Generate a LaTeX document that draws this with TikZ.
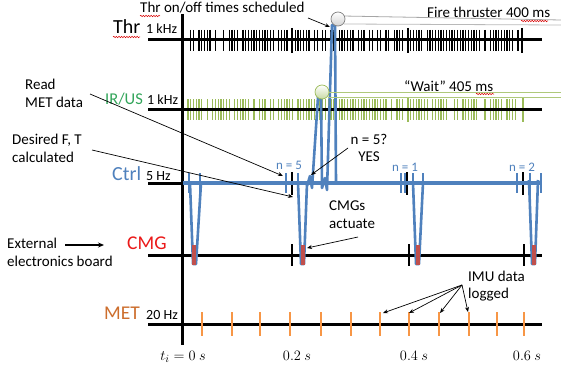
\documentclass[tikz,border=0pt]{standalone}
\usepackage{fontspec}
\setmainfont{Carlito}
\usetikzlibrary{arrows.meta,decorations.pathmorphing}
\definecolor{ctrlblue}{RGB}{79,129,189}
\definecolor{irgreen}{RGB}{155,187,89}
\definecolor{irtext}{RGB}{50,165,90}
\definecolor{cmgred}{RGB}{235,25,25}
\definecolor{cmgbar}{RGB}{192,80,77}
\definecolor{metorange}{RGB}{247,150,70}
\definecolor{mettext}{RGB}{205,110,45}
\begin{document}
\begin{tikzpicture}[x=1pt,y=-1pt,
  txt/.style={inner sep=0pt,font=\fontsize{15}{17.5}\selectfont},
  mtxt/.style={inner sep=0pt,font=\fontsize{15}{17.5}\selectfont,align=left,anchor=north west},
  big/.style={inner sep=0pt,anchor=base west,font=\fontsize{20}{22}\selectfont},
  rate/.style={inner sep=0pt,anchor=base west,font=\fontsize{14}{16}\selectfont},
  nlbl/.style={inner sep=0pt,anchor=base west,font=\fontsize{13}{15}\selectfont,text=ctrlblue},
  axis/.style={line width=3pt,black},
  ptr/.style={-{Stealth[length=5pt,width=4pt]},line width=0.7pt},
  blue trace/.style={ctrlblue,line width=2.6pt,line join=round},
  btick/.style={ctrlblue,line width=2.4pt},
  ktick/.style={black,line width=1.6pt},
  squig/.style={red!85!black,line width=0.5pt,decorate,decoration={snake,amplitude=0.7pt,segment length=2.6pt}}
]
\useasboundingbox (0,0) rectangle (561,369);
\fill[white] (0,0) rectangle (561,369);

% ---------- Thr pulses ----------
\pgfmathsetseed{11}
\foreach \i in {0,...,120}{
  \pgfmathsetmacro\xx{188+\i*2.75}
  \pgfmathrandominteger{\rv}{0}{9}
  \ifnum\rv>1 \draw[line width=1.2pt] (\xx,30) -- (\xx,51); \fi
}
\foreach \xx in {292,408,522}{\draw[line width=1.4pt] (\xx,28) -- (\xx,53);}
% ---------- IR/US pulses ----------
\pgfmathsetseed{23}
\foreach \i in {0,...,120}{
  \pgfmathsetmacro\xx{188+\i*2.75}
  \pgfmathrandominteger{\rv}{0}{9}
  \ifnum\rv>1 \draw[irgreen,line width=1.2pt] (\xx,99) -- (\xx,120); \fi
}
\foreach \xx in {408,523}{\draw[irgreen,line width=1.4pt] (\xx,97) -- (\xx,122);}

% ---------- horizontal axes ----------
\draw[axis] (148,40) -- (542,40);
\draw[axis] (148,109) -- (542,109);
\draw[axis] (148,183) -- (542,183);
\draw[axis] (148,255) -- (542,255);
\draw[axis] (148,324) -- (542,324);
\draw[axis] (182,14) -- (182,345);

% black time ticks
\foreach \xx in {292,407,523}{\draw[ktick] (\xx,172) -- (\xx,195);}
\foreach \xx in {292,409,524}{\draw[ktick] (\xx,244) -- (\xx,266);}

% ---------- MET ticks ----------
\foreach \xx in {202,232,260,290,321,351,380,409,439,469,497,524}{
  \draw[metorange,line width=1.8pt] (\xx,312) -- (\xx,336);}

% ---------- Ctrl trace ----------
\draw[ctrlblue,line width=3.4pt] (183,183) -- (542,183);
\foreach \xx in {189,200,286,298,401,405,413,423,517,530,541}{
  \draw[btick] (\xx,173) -- (\xx,193);}
\draw[blue trace] (190,183) -- (193,264) -- (196,264) -- (201,183);
\draw[blue trace] (298,183) -- (301,264) -- (304,264) -- (307,183);
\draw[blue trace] (413,183) -- (416,264) -- (419,264) -- (423,183);
\draw[blue trace] (529,180) -- (532,264) -- (535,264) -- (538,180);
\draw[blue trace] (307,186) -- (310,176) -- (312,188) -- (318,97) -- (321,97) -- (322,188)
  -- (325,178) -- (327,190) -- (332,25) -- (335,25) -- (336,183);

% CMG red bars
\foreach \xx in {194,303,418,534}{
  \fill[cmgbar] (\xx-2,245) rectangle (\xx+2,265);}

% ---------- circles and their leader lines ----------
\draw[gray!70,line width=0.8pt] (343,16) -- (561,20);
\draw[gray!55,line width=0.8pt] (344,24) -- (561,25);
\node[circle,draw=gray,line width=0.7pt,inner sep=0pt,minimum size=14pt,
  top color=white,bottom color=gray!35] (thrc) at (338,19) {};
\draw[irgreen!80,line width=0.8pt] (328,92) -- (561,92);
\draw[irgreen!80,line width=0.8pt] (328,97) -- (561,97);
\node[circle,draw=irgreen,line width=0.7pt,inner sep=0pt,minimum size=14pt,
  top color=white,bottom color=irgreen!55] (irc) at (322,92) {};

% ---------- labels ----------
\node[big] (thr) at (113,34) {Thr};
\node[rate] (thrhz) at (146,34) {1 kHz};
\node[big,font=\fontsize{16.5}{19}\selectfont,text=irtext] (ir) at (105,104) {IR/US};
\node[rate] (irhz) at (147,104) {1 kHz};
\node[big,text=ctrlblue] (ctrl) at (112,180) {Ctrl};
\node[rate] (ctrlhz) at (146,180) {5 Hz};
\node[big,font=\fontsize{19.5}{22}\selectfont,text=cmgred] (cmg) at (127,249) {CMG};
\node[big,font=\fontsize{19.5}{22}\selectfont,text=mettext] (met) at (104,319) {MET};
\node[rate] (methz) at (146,319) {20 Hz};

\node[txt,anchor=base west] (sched) at (140,13) {Thr on/off times scheduled};
\node[txt,anchor=base west] (fire) at (427,18) {Fire thruster 400 ms};
\node[txt,anchor=base west] (wait) at (404,91) {“Wait” 405 ms};
\node[mtxt] (read) at (25,79) {Read\\MET data};
\node[mtxt] (desired) at (12,134) {Desired F, T\\calculated};
\node[txt,align=center,anchor=north] (nq) at (369,134) {n = 5?\\YES};
\node[mtxt] (cmgs) at (329,201) {CMGs\\actuate};
\node[mtxt,font=\fontsize{15}{18}\selectfont] (ext) at (7,238) {External\\electronics board};
\node[mtxt,font=\fontsize{15}{16.5}\selectfont] (imu) at (468,271) {IMU data\\logged};
\node[nlbl] (n5) at (276,169) {n = 5};
\node[nlbl] (n1) at (392,171) {n = 1};
\node[nlbl] (n2) at (509,171) {n = 2};

\node[txt,anchor=base] (t0) at (183,360) {$t_i = 0\ s$};
\node[txt,anchor=base] (t2) at (297,360) {$0.2\ s$};
\node[txt,anchor=base] (t4) at (414,360) {$0.4\ s$};
\node[txt,anchor=base] (t6) at (527,360) {$0.6\ s$};

% spell-check squiggles
\draw[squig] (113,37) -- (140,37);
\draw[squig] (140,16) -- (160,16);
\draw[squig] (521,21) -- (548,21);
\draw[squig] (476,94) -- (494,94);

% ---------- pointers ----------
\coordinate (schedS) at (308,18);  \coordinate (schedE) at (330,27);
\coordinate (readS) at (90,94);    \coordinate (readE) at (283,176);
\coordinate (desS) at (92,150);    \coordinate (desE) at (293,197);
\coordinate (nqS) at (348,148);    \coordinate (nqE) at (311,175);
\coordinate (cmgsS) at (358,237);  \coordinate (cmgsE) at (307,248);
\coordinate (extS) at (65,245);    \coordinate (extE) at (104,245);
\coordinate (imuS) at (462,285);
\coordinate (imuA) at (383,313); \coordinate (imuB) at (409,313);
\coordinate (imuC) at (440,313); \coordinate (imuD) at (468,312);
\draw[ptr] (schedS) -- (schedE);
\draw[ptr] (readS) -- (readE);
\draw[ptr] (desS) -- (desE);
\draw[ptr] (nqS) -- (nqE);
\draw[ptr] (cmgsS) -- (cmgsE);
\draw[-{Stealth[length=6pt,width=5pt]},line width=1.4pt] (extS) -- (extE);
\foreach \e in {imuA,imuB,imuC,imuD}{\draw[ptr] (imuS) -- (\e);}
\end{tikzpicture}
\end{document}
